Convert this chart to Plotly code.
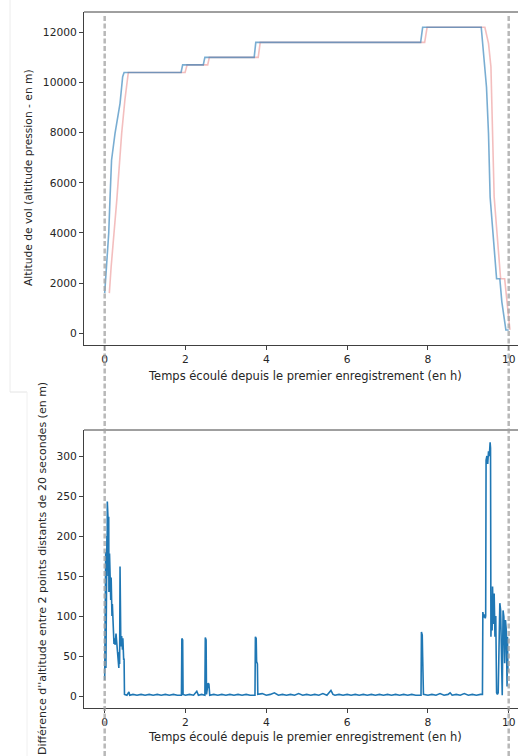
import plotly.graph_objects as go

OFF = 0
W, H = 518, 756

# ---------------- data ----------------
# Top chart: flight altitude (pressure altitude, m) vs elapsed time (h)
alt_blue_t = [0.0, 0.05, 0.10, 0.13, 0.148, 0.17, 0.255, 0.38, 0.445, 0.48,
              1.89, 1.93, 2.44, 2.48, 3.70, 3.74, 7.82, 7.87, 9.32,
              9.36, 9.41, 9.45, 9.50, 9.54, 9.70, 9.78, 9.83, 9.93, 10.0]
alt_blue_v = [1600, 2650, 3990, 5300, 6000, 6900, 7960, 9170, 10230, 10400,
              10400, 10700, 10700, 11000, 11000, 11600, 11600, 12200, 12200,
              11550, 10620, 9820, 7960, 5430, 2170, 2170, 1250, 130, 130]

alt_red_t = [0.115, 0.16, 0.30, 0.42, 0.50, 0.585,
             1.99, 2.04, 2.55, 2.59, 3.80, 3.85, 7.92, 7.98, 9.41,
             9.50, 9.56, 9.58, 9.64, 9.80, 9.90, 10.03]
alt_red_v = [1600, 2650, 5320, 7960, 9300, 10400,
             10400, 10700, 10700, 11000, 11000, 11600, 11600, 12200, 12200,
             11560, 10620, 9300, 5430, 2170, 2170, 130]

# Bottom chart: altitude difference between 2 points 20 s apart (m)
diff_t = [0.0, 0.005, 0.01, 0.015, 0.02, 0.025, 0.03, 0.035, 0.04, 0.045,
          0.05, 0.055, 0.06, 0.065, 0.07, 0.08, 0.09, 0.10, 0.105, 0.11,
          0.12, 0.13, 0.14, 0.15, 0.16, 0.17, 0.18, 0.19, 0.20, 0.21,
          0.22, 0.23, 0.24, 0.26, 0.28, 0.30, 0.32, 0.34, 0.35, 0.36,
          0.37, 0.38, 0.39, 0.40, 0.42, 0.44, 0.45, 0.46, 0.47, 0.48,
          0.49, 0.55, 0.60, 0.62, 0.70, 0.80, 0.90, 1.00, 1.10, 1.20,
          1.30, 1.40, 1.50, 1.60, 1.70, 1.80, 1.90, 1.91, 1.93, 1.94,
          2.00, 2.10, 2.20, 2.28, 2.32, 2.40, 2.48, 2.49, 2.51, 2.52,
          2.56, 2.58, 2.60, 2.70, 2.80, 2.90, 3.00, 3.10, 3.20, 3.30,
          3.40, 3.50, 3.60, 3.72, 3.73, 3.75, 3.76, 3.78, 3.79, 3.90,
          4.00, 4.10, 4.20, 4.30, 4.40, 4.50, 4.60, 4.70, 4.80, 4.90,
          5.00, 5.10, 5.20, 5.30, 5.40, 5.50, 5.60, 5.65, 5.70, 5.80,
          5.90, 6.00, 6.10, 6.20, 6.30, 6.40, 6.50, 6.60, 6.70, 6.80,
          6.90, 7.00, 7.10, 7.20, 7.30, 7.40, 7.50, 7.60, 7.70, 7.83,
          7.84, 7.86, 7.87, 7.89, 8.00, 8.10, 8.20, 8.30, 8.40, 8.50,
          8.55, 8.60, 8.70, 8.80, 8.90, 9.00, 9.10, 9.20, 9.30, 9.35,
          9.36, 9.38, 9.40, 9.42, 9.43, 9.44, 9.46, 9.48, 9.50, 9.52,
          9.54, 9.55, 9.56, 9.58, 9.59, 9.60, 9.62, 9.64, 9.66, 9.68,
          9.70, 9.72, 9.74, 9.76, 9.78, 9.80, 9.82, 9.84, 9.86, 9.88,
          9.90, 9.92, 9.94, 9.96, 9.97, 9.98]
diff_v = [20, 90, 40, 150, 60, 180, 35, 140, 80, 175,
          120, 200, 160, 243, 190, 225, 150, 224, 130, 170,
          178, 140, 152, 120, 148, 110, 100, 115, 95, 70,
          85, 65, 72, 64, 78, 66, 60, 48, 35, 55,
          40, 162, 110, 62, 75, 58, 72, 65, 45, 47,
          2, 1, 5, 1, 2, 1, 2, 1, 2, 1,
          2, 1, 2, 1, 2, 1, 1, 72, 70, 2,
          1, 2, 1, 6, 1, 2, 1, 73, 70, 2,
          16, 15, 1, 2, 1, 2, 1, 2, 1, 2,
          1, 2, 1, 1, 74, 72, 43, 40, 2, 3,
          1, 2, 4, 1, 2, 1, 2, 1, 3, 1,
          2, 1, 2, 1, 3, 1, 7, 2, 1, 2,
          1, 2, 1, 2, 1, 2, 1, 2, 1, 2,
          1, 2, 1, 2, 1, 2, 1, 2, 1, 1,
          80, 76, 49, 2, 1, 2, 1, 3, 1, 2,
          4, 1, 2, 1, 3, 1, 2, 1, 2, 2,
          105, 98, 102, 97, 100, 295, 300, 290, 306, 300,
          317, 310, 74, 124, 82, 137, 90, 128, 74, 100,
          4, 2, 4, 82, 116, 107, 60, 1, 107, 99,
          41, 95, 82, 12, 74, 30]

x_ticks = [0, 2, 4, 6, 8, 10]
top_y_ticks = [0, 2000, 4000, 6000, 8000, 10000, 12000]
bot_y_ticks = [0, 50, 100, 150, 200, 250, 300]
event_lines = [0, 10]

# ---------------- layout helpers (window pixel -> paper) ----------------
def px_x(p):
    return (p - OFF) / W

def px_y(p):
    return (H - (p - OFF)) / H

FONT = "DejaVu Sans"
TXT = "#262626"
SPINE = "#404040"

fig = go.Figure()

fig.add_trace(go.Scatter(x=alt_red_t, y=alt_red_v, mode="lines",
                         line=dict(color="rgba(214,39,40,0.3)", width=1.6),
                         xaxis="x", yaxis="y", showlegend=False))
fig.add_trace(go.Scatter(x=alt_blue_t, y=alt_blue_v, mode="lines",
                         line=dict(color="rgba(31,119,180,0.6)", width=1.6),
                         xaxis="x", yaxis="y", showlegend=False))
fig.add_trace(go.Scatter(x=diff_t, y=diff_v, mode="lines",
                         line=dict(color="#1f77b4", width=1.6),
                         xaxis="x2", yaxis="y2", showlegend=False))

axis_common = dict(showgrid=False, zeroline=False, showline=True,
                   linecolor=SPINE, linewidth=1, ticks="outside", ticklen=4,
                   tickwidth=1, tickcolor=SPINE, tickformat="d",
                   ticklabeloverflow="allow",
                   tickfont=dict(family=FONT, size=10.7, color=TXT))

xr = [-0.512, 10.23]
fig.update_layout(
    width=W, height=H, margin=dict(l=0, r=0, t=0, b=0),
    paper_bgcolor="white", plot_bgcolor="white",
    xaxis=dict(domain=[px_x(84), 1], range=xr, anchor="y",
               tickvals=x_ticks, **axis_common),
    yaxis=dict(domain=[px_y(345), px_y(12)], range=[-470, 12810], anchor="x",
               tickvals=top_y_ticks, **axis_common),
    xaxis2=dict(domain=[px_x(84), 1], range=xr, anchor="y2",
                tickvals=x_ticks, **axis_common),
    yaxis2=dict(domain=[px_y(708), px_y(430)], range=[-15, 332.5], anchor="x2",
                tickvals=bot_y_ticks, **axis_common),
)

shapes = []
# top spines
for yy in (12, 430):
    shapes.append(dict(type="line", xref="paper", yref="paper",
                       x0=px_x(84), x1=1, y0=px_y(yy), y1=px_y(yy),
                       line=dict(color=SPINE, width=1)))
# faint panel edges at left
shapes.append(dict(type="line", xref="paper", yref="paper",
                   x0=px_x(10), x1=px_x(10), y0=px_y(392), y1=1,
                   line=dict(color="#ececec", width=1)))
shapes.append(dict(type="line", xref="paper", yref="paper",
                   x0=px_x(10), x1=px_x(27), y0=px_y(392), y1=px_y(392),
                   line=dict(color="#e4e4e4", width=1)))
shapes.append(dict(type="line", xref="paper", yref="paper",
                   x0=px_x(27), x1=px_x(27), y0=0, y1=px_y(392),
                   line=dict(color="#f0f0f0", width=1)))
# dashed event lines across the whole figure
for xv in event_lines:
    shapes.append(dict(type="line", xref="x", yref="paper", layer="above",
                       x0=xv, x1=xv, y0=0, y1=px_y(15),
                       line=dict(color="rgba(160,160,160,0.75)", width=2.5,
                                 dash="5px,2.5px")))
fig.update_layout(shapes=shapes)

annotations = [
    dict(text="Temps écoulé depuis le premier enregistrement (en h)",
         x=px_x(305), y=px_y(376), xref="paper", yref="paper",
         showarrow=False, xanchor="center", yanchor="middle",
         font=dict(family=FONT, size=11.5, color=TXT)),
    dict(text="Temps écoulé depuis le premier enregistrement (en h)",
         x=px_x(305), y=px_y(737), xref="paper", yref="paper",
         showarrow=False, xanchor="center", yanchor="middle",
         font=dict(family=FONT, size=11.5, color=TXT)),
    dict(text="Altitude de vol (altitude pression - en m)",
         x=px_x(28), y=px_y(178), xref="paper", yref="paper",
         showarrow=False, textangle=-90, xanchor="center", yanchor="middle",
         font=dict(family=FONT, size=10.7, color=TXT)),
    dict(text="Différence d''altitude entre 2 points distants de 20 secondes (en m)",
         x=px_x(42), y=px_y(569), xref="paper", yref="paper",
         showarrow=False, textangle=-90, xanchor="center", yanchor="middle",
         font=dict(family=FONT, size=11, color=TXT)),
]
fig.update_layout(annotations=annotations)

fig.write_html(
    "out.html",
    config={"displayModeBar": False},
    post_script="document.body.style.margin='0';document.body.style.overflow='hidden';",
)
